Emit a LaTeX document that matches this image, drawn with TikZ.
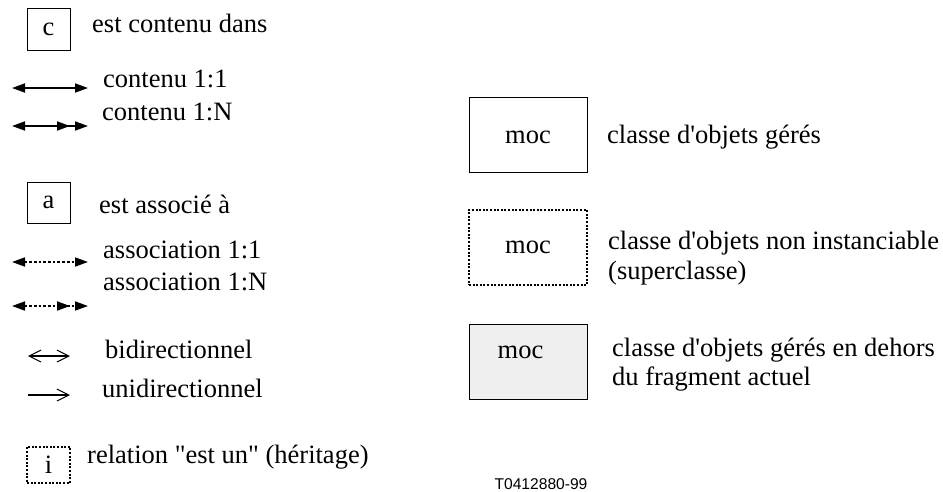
\documentclass[tikz,border=0pt]{standalone}
\usepackage{fontspec}
\setmainfont{Liberation Serif}
\newfontfamily\tagfont{Liberation Sans}
\usetikzlibrary{arrows.meta}

\definecolor{extgrey}{HTML}{EFEFEF}

\begin{document}
\begin{tikzpicture}[
    x=1pt, y=-1pt,
    every node/.style={font=\fontsize{26.5}{30}\selectfont, inner sep=0pt},
    txt/.style={anchor=base west},
    legbox/.style={draw, line width=0.9pt, minimum width=43pt},
    dotbox/.style={draw, line width=1.4pt, dash pattern=on 2pt off 1.6pt},
    mocbox/.style={draw, line width=0.9pt, minimum width=118pt, minimum height=75pt},
    link/.style={line width=1.8pt},
    dotlink/.style={link, dash pattern=on 2.7pt off 2pt},
    one/.style={{Triangle[length=13pt,width=9pt]}-{Triangle[length=13pt,width=9pt]}},
    many/.style={{Triangle[length=13pt,width=9pt]}-{Triangle[length=13pt,width=9pt,sep=5pt]Triangle[length=13pt,width=9pt]}},
    open/.style={line width=1.2pt, {Straight Barb[length=12pt,width=12pt,line width=1pt]}-{Straight Barb[length=12pt,width=12pt,line width=1pt]}},
    openend/.style={line width=1.8pt, -{Straight Barb[length=12pt,width=12pt,line width=1pt]}}
]
\useasboundingbox (0,0) rectangle (943,491);

% containment
\node[legbox, minimum height=42pt] (cbox) at (48.5,29) {c};
\node[txt] (ctxt) at (92,32) {est contenu dans};
\coordinate (c1l) at (12,88);  \coordinate (c1r) at (88,88);
\coordinate (cnl) at (12,126); \coordinate (cnr) at (88,126);
\draw[link, one] (c1l) -- (c1r);
\draw[link, many] (cnl) -- (cnr);
\node[txt] (c1txt) at (103,87) {contenu 1:1};
\node[txt] (cntxt) at (102,120) {contenu 1:N};

% association
\node[legbox, minimum height=41pt] (abox) at (48.5,202.5) {a};
\node[txt] (atxt) at (99,213) {est associé à};
\coordinate (a1l) at (12,262); \coordinate (a1r) at (88,262);
\coordinate (anl) at (12,306); \coordinate (anr) at (88,306);
\draw[dotlink, one] (a1l) -- (a1r);
\draw[dotlink, many] (anl) -- (anr);
\node[txt] (a1txt) at (103,258) {association 1:1};
\node[txt] (antxt) at (103,290) {association 1:N};

% direction
\coordinate (bil) at (28,356); \coordinate (bir) at (70,356);
\coordinate (unl) at (28,395); \coordinate (unr) at (70,395);
\draw[open] (bil) -- (bir);
\draw[openend] (unl) -- (unr);
\node[txt] (bitxt) at (105,358) {bidirectionnel};
\node[txt] (untxt) at (102,397) {unidirectionnel};

% inheritance
\node[dotbox, minimum width=43pt, minimum height=36pt] (ibox) at (48.5,465) {i};
\node[txt] (itxt) at (87,463) {relation \textquotedbl est un\textquotedbl{} (héritage)};

% managed object classes
\node[mocbox] (moc) at (528,134.5) {};
\node[anchor=base] (moclbl) at (528,143) {moc};
\node[txt] (moctxt) at (607,143) {classe d\textquotesingle objets gérés};

\node[mocbox, dotbox] (sup) at (528,247.5) {};
\node[anchor=base] (suplbl) at (528,253) {moc};
\node[txt] (suptxt) at (608,249) {classe d\textquotesingle objets non instanciable};
\node[txt] (suptxtb) at (608,279) {(superclasse)};

\node[mocbox, fill=extgrey] (ext) at (528,361.5) {};
\node[anchor=base] (extlbl) at (520.5,358) {moc};
\node[txt] (exttxt) at (612,356) {classe d\textquotesingle objets gérés en dehors};
\node[txt] (exttxtb) at (612,385) {du fragment actuel};

\node[anchor=base, font=\tagfont\fontsize{15.6}{18}\selectfont] (tag) at (541,489) {T0412880-99};
\end{tikzpicture}
\end{document}
